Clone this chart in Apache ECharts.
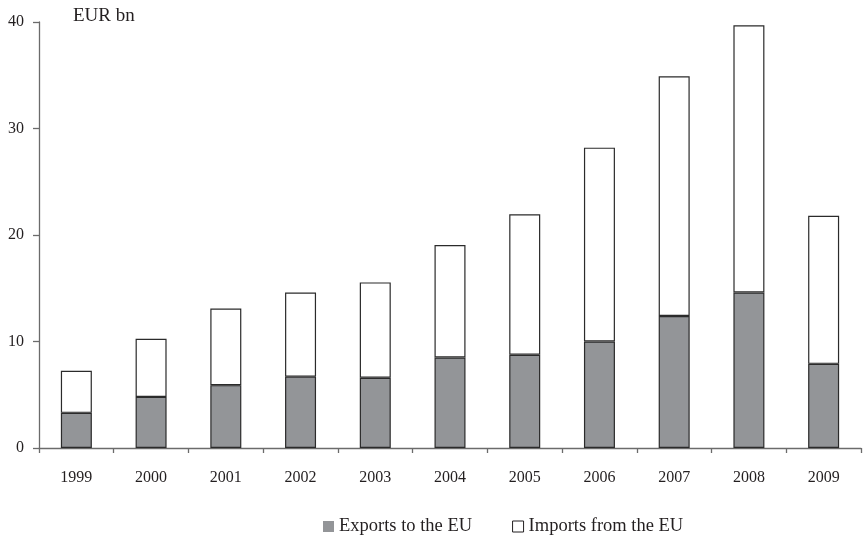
<!DOCTYPE html>
<html>
<head>
<meta charset="utf-8">
<script src="https://cdn.jsdelivr.net/npm/echarts@6/dist/echarts.min.js"></script>
<style>
  html, body { margin: 0; padding: 0; background: #fff; }
  #chart { width: 863px; height: 535px; }
</style>
</head>
<body>
<div id="chart"></div>
<script>
// Trade with the EU, EUR bn
const years = ['1999', '2000', '2001', '2002', '2003', '2004', '2005', '2006', '2007', '2008', '2009'];
const exportsToEU = [3.3, 4.8, 5.9, 6.7, 6.6, 8.5, 8.75, 10.0, 12.4, 14.6, 7.9];
const importsFromEU = [3.95, 5.45, 7.2, 7.9, 8.95, 10.55, 13.2, 18.2, 22.5, 25.1, 13.9];
const yTicks = [0, 10, 20, 30, 40];

const FONT = '"Liberation Serif", "DejaVu Serif", serif';
const AXIS = '#6b6b6b';
const INK = '#231f20';

const chart = echarts.init(document.getElementById('chart'), null, { renderer: 'canvas' });
chart.setOption({
  animation: false,
  backgroundColor: '#fff',
  textStyle: { fontFamily: FONT, color: INK },
  grid: { left: 39, right: 2, top: 22, bottom: 87, containLabel: false },
  legend: {
    left: 318,
    top: 512,
    padding: 5,
    itemWidth: 11,
    itemHeight: 11,
    itemGap: 40,
    icon: 'rect',
    textStyle: { fontFamily: FONT, fontSize: 18.5, color: INK },
    data: [
      { name: 'Exports to the EU', itemStyle: { color: '#939598', borderWidth: 0 } },
      { name: 'Imports from the EU', itemStyle: { color: '#ffffff', borderColor: INK, borderWidth: 1 } }
    ]
  },
  graphic: [{
    type: 'text',
    left: 73,
    top: 7,
    style: { text: 'EUR bn', font: '19px ' + FONT, fill: INK }
  }],
  xAxis: {
    type: 'category',
    data: years,
    boundaryGap: true,
    axisLine: { lineStyle: { color: AXIS, width: 1.3 } },
    axisTick: { show: true, length: 5, inside: false, lineStyle: { color: AXIS, width: 1.3 } },
    axisLabel: { margin: 22, fontSize: 16, color: INK, fontFamily: FONT },
    splitLine: { show: false }
  },
  yAxis: {
    type: 'value',
    min: yTicks[0],
    max: yTicks[yTicks.length - 1],
    interval: 10,
    axisLine: { show: true, lineStyle: { color: AXIS, width: 1.3 } },
    axisTick: { show: true, length: 6, lineStyle: { color: AXIS, width: 1.3 } },
    axisLabel: { margin: 15, fontSize: 16, color: INK, fontFamily: FONT },
    splitLine: { show: false }
  },
  series: [
    {
      name: 'Exports to the EU',
      type: 'bar',
      stack: 'trade',
      data: exportsToEU,
      barWidth: 31,
      itemStyle: { color: '#939598', borderColor: '#2b2b2b', borderWidth: 1.2 }
    },
    {
      name: 'Imports from the EU',
      type: 'bar',
      stack: 'trade',
      data: importsFromEU,
      barWidth: 31,
      itemStyle: { color: '#ffffff', borderColor: '#2b2b2b', borderWidth: 1.2 }
    }
  ]
});
</script>
</body>
</html>
